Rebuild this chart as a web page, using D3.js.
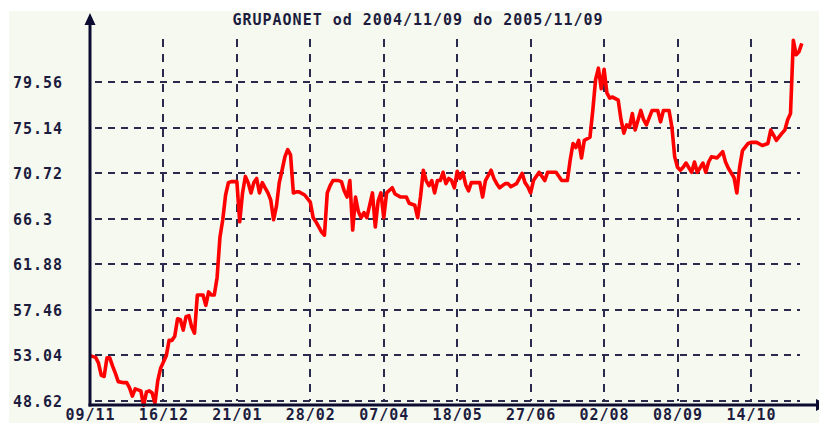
<!DOCTYPE html>
<html><head><meta charset="utf-8">
<script src="https://cdn.jsdelivr.net/npm/d3@7"></script>
<style>
html,body{margin:0;padding:0;background:#fff;}
svg{display:block;}
</style></head><body>
<svg id="chart" width="819" height="423"></svg>
<script>
const title = "GRUPAONET od 2004/11/09 do 2005/11/09";
const sessions = [0,2,3,4,5,6,7,8,9,10,12,13,14,15,16,17,18,19,20,21,22,23,24,25,26,27,28,29,30,31,32,33,34,35,36,37,38,39,40,41,42,43,44,45,46,47,48,49,50,51,52,53,54,55,56,57,58,59,60,61,62,63,64,65,66,67,68,69,70,71,72,73,74,76,78,79,80,81,82,83,84,85,86,88,89,90,91,92,93,94,95,96,97,98,99,100,101,102,103,104,105,107,108,110,112,113,115,116,117,118,119,120,121,122,123,124,125,126,127,128,129,130,131,132,133,134,135,137,138,139,140,142,143,144,145,147,148,149,151,153,154,155,156,157,159,161,162,165,167,169,170,171,172,173,174,175,177,178,179,180,181,182,183,184,185,187,188,189,190,191,192,193,195,196,197,199,201,202,203,205,206,207,208,209,210,211,213,214,215,217,218,219,220,222,224,225,226,228,229,230,231,233,234,236,238,240,241,242,243,245,246,247,248,249,250,251,252];
const prices = [53.0,52.85,52.3,51.1,51.0,52.8,52.8,52.0,51.3,50.5,50.4,50.4,49.9,49.1,49.8,49.7,49.6,48.2,49.5,49.6,49.4,48.4,50.6,51.8,52.4,53.0,54.5,54.5,54.9,56.6,56.5,55.5,56.8,56.9,55.8,55.2,58.9,58.9,58.9,57.9,59.2,58.9,58.9,60.6,64.5,66.2,68.6,69.8,69.9,69.9,69.9,66.0,68.8,70.4,69.8,68.8,69.8,70.2,68.8,69.8,69.3,68.8,68.1,66.2,67.5,69.8,71.0,72.3,73.0,72.5,68.8,68.9,68.9,68.6,67.9,66.4,66.0,65.5,65.0,64.7,68.8,69.5,70.0,70.0,69.9,69.0,68.4,70.0,65.2,68.4,67.0,66.4,66.9,66.4,67.6,68.8,65.5,68.0,68.8,66.4,68.8,69.3,68.7,68.4,68.4,67.8,67.6,66.4,68.4,71.0,70.0,69.5,70.0,68.8,70.0,70.0,70.8,69.7,70.2,70.0,69.3,70.9,70.2,70.8,69.6,69.0,69.8,69.8,69.8,68.4,70.0,71.0,70.2,69.7,69.3,69.7,69.7,69.4,69.7,70.7,69.8,69.4,68.8,70.0,70.8,70.0,70.8,70.8,70.0,70.0,72.0,73.6,73.2,73.9,72.2,73.9,74.2,76.8,79.8,80.9,78.9,80.8,78.5,78.0,78.1,77.8,75.9,74.6,75.4,75.2,76.5,74.9,76.8,75.9,75.4,76.8,76.8,75.7,76.8,76.8,75.2,72.3,71.3,71.0,71.3,71.7,70.8,71.8,70.8,71.7,70.8,71.8,72.3,72.2,72.8,71.8,71.2,70.3,68.8,71.3,72.9,73.6,73.7,73.7,73.4,73.6,74.9,74.4,73.9,74.6,74.9,75.9,76.5,83.6,82.2,82.5,83.3];
const yTicks = [48.62,53.04,57.46,61.88,66.3,70.72,75.14,79.56];
const xTickSessions = [0,26,52,78,104,130,156,182,208,234];
const xTickLabels = ["09/11","16/12","21/01","28/02","07/04","18/05","27/06","02/08","08/09","14/10"];

const data = sessions.map((s,i)=>({s:s, v:prices[i]}));
const svg = d3.select("#chart");
const ink = "#1c1c3e", axisInk = "#0c0c30", gridInk = "#2a2a4c";
const font = "'DejaVu Sans Mono', monospace";

svg.append("rect").attr("x",9).attr("y",11).attr("width",810).attr("height",412).attr("fill","#f6f9ef");

const x = d3.scaleLinear().domain([0,260]).range([90, 90 + 260*73.44/26]);
const y = d3.scaleLinear().domain([48.62,79.56]).range([401,82]);

// grid
const grid = svg.append("g");
grid.selectAll("line.h").data(yTicks).join("line")
  .attr("x1",93).attr("x2",800).attr("y1",d=>Math.round(y(d))).attr("y2",d=>Math.round(y(d)))
  .attr("stroke",gridInk).attr("stroke-width",2).attr("stroke-dasharray","7,6").attr("stroke-dashoffset",-2);
grid.selectAll("line.v").data(xTickSessions.slice(1)).join("line")
  .attr("x1",d=>Math.round(x(d))).attr("x2",d=>Math.round(x(d))).attr("y1",39).attr("y2",401)
  .attr("stroke",gridInk).attr("stroke-width",2).attr("stroke-dasharray","8,7");

// line
svg.append("path").datum(data)
  .attr("d", d3.line().x(d=>x(d.s)).y(d=>y(d.v)))
  .attr("fill","none").attr("stroke","#ff0000").attr("stroke-width",3.6)
  .attr("stroke-linejoin","round");

// y axis labels
const yAxis = svg.append("g").attr("transform","translate(90,0)")
  .call(d3.axisLeft(y).tickValues(yTicks).tickFormat(d=>String(d)).tickSize(0));
yAxis.select(".domain").remove();
yAxis.selectAll("text").attr("x",-77).attr("dy","5.5").attr("text-anchor","start")
  .attr("fill",ink).style("font-family",font).style("font-size","15px").style("font-weight","bold").style("letter-spacing","1px");

// x axis labels
const xAxis = svg.append("g").attr("transform","translate(0,405)")
  .call(d3.axisBottom(x).tickValues(xTickSessions).tickFormat((d,i)=>xTickLabels[i]).tickSize(0));
xAxis.select(".domain").remove();
xAxis.selectAll("text").attr("y",15).attr("dy",0)
  .attr("fill",ink).style("font-family",font).style("font-size","15px").style("font-weight","bold").style("letter-spacing","1px");

// axis lines with arrows
svg.append("line").attr("x1",x(0)).attr("x2",x(0)).attr("y1",20).attr("y2",406.5)
  .attr("stroke",axisInk).attr("stroke-width",3);
svg.append("path").attr("d","M84.5,25L90,13L95.5,25Z").attr("fill",axisInk);
svg.append("line").attr("x1",88.5).attr("x2",820).attr("y1",405).attr("y2",405)
  .attr("stroke",axisInk).attr("stroke-width",3);
svg.append("path").attr("d","M816,399L828,405L816,411Z").attr("fill",axisInk);

// title
svg.append("text").attr("x",418).attr("y",25).attr("text-anchor","middle")
  .attr("fill",ink).style("font-family",font).style("font-size","15px").style("font-weight","bold").style("letter-spacing","1px")
  .text(title);
</script>
</body></html>
